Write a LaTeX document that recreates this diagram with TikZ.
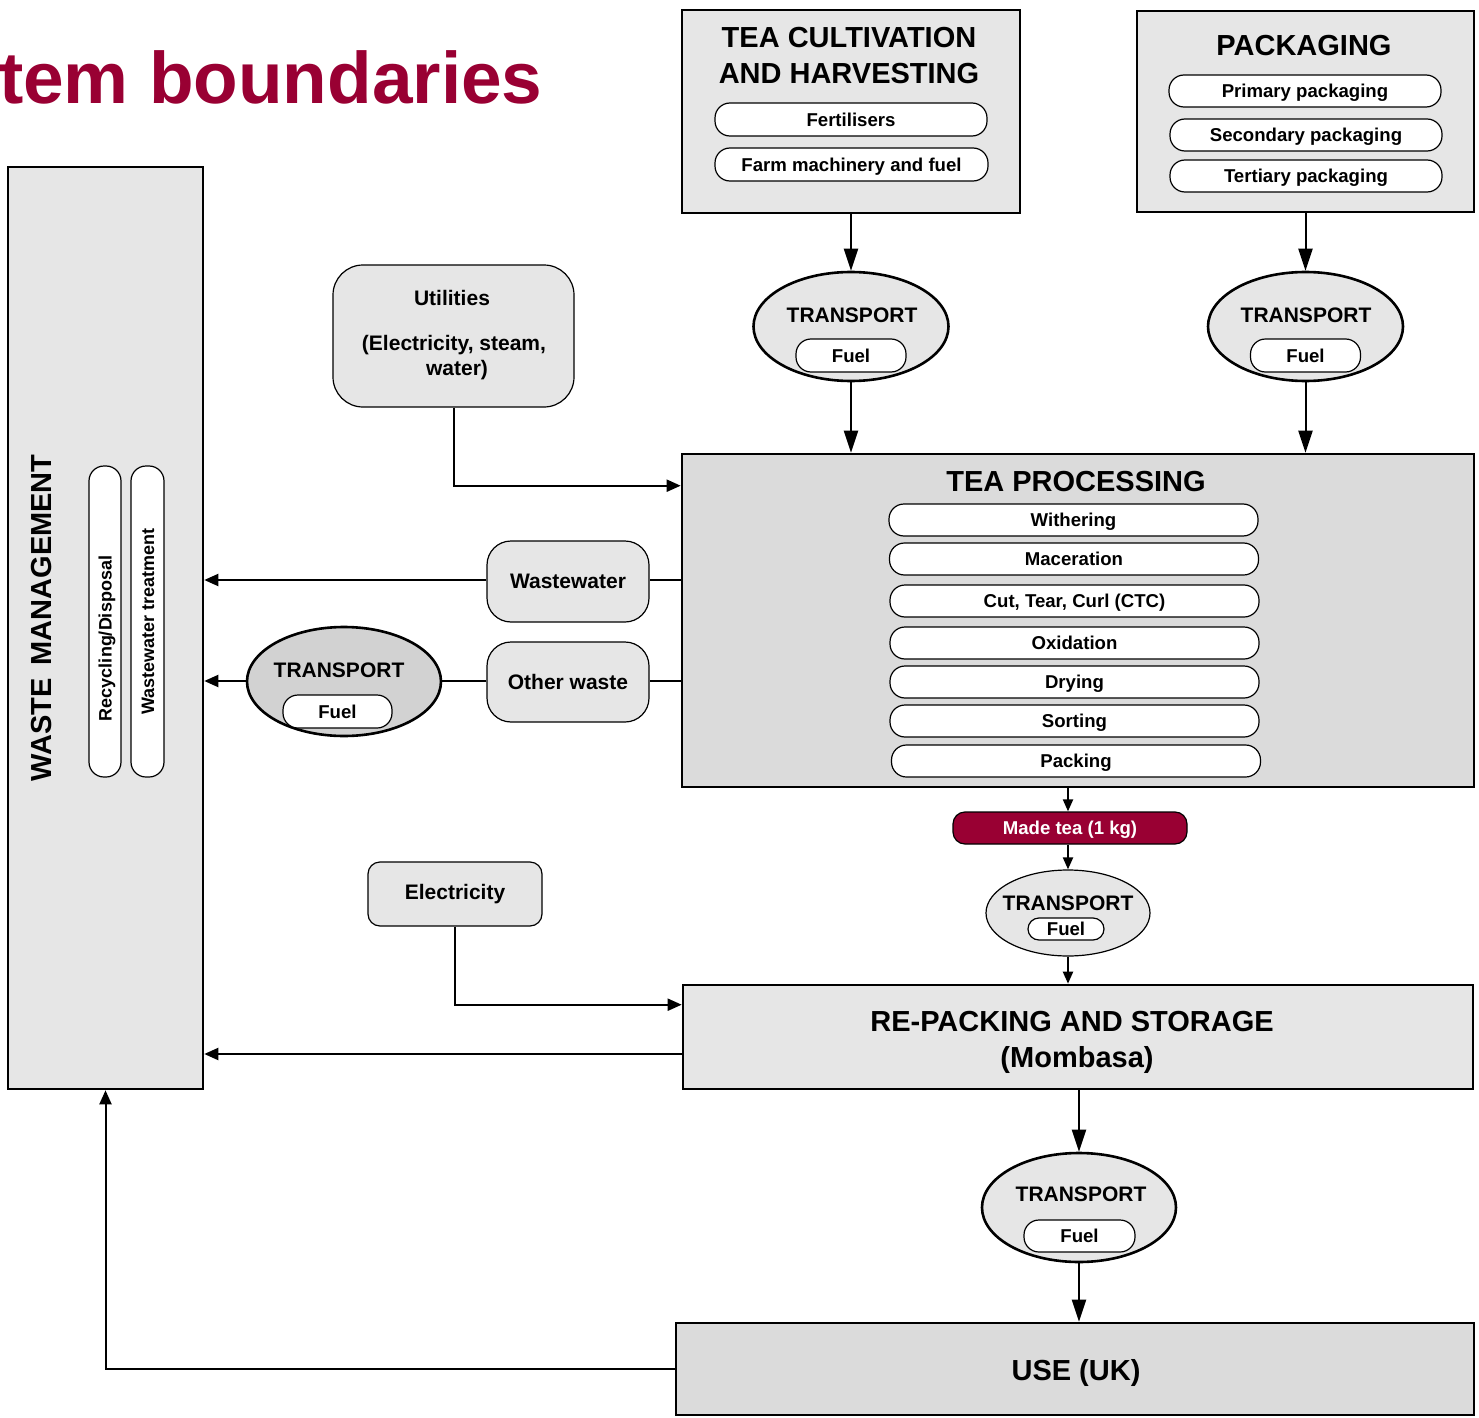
\documentclass[tikz,border=0pt]{standalone}
\usepackage{fontspec}
\setmainfont{Liberation Sans}
\usetikzlibrary{arrows.meta,shapes.geometric,calc}
\definecolor{wine}{HTML}{990033}
\definecolor{lg}{HTML}{E6E6E6}
\definecolor{mg}{HTML}{DBDBDB}
\definecolor{dg}{HTML}{D2D2D2}
\newcommand\myfs[2]{\fontsize{#1}{#2}\selectfont\bfseries}
\begin{document}
\begin{tikzpicture}[x=0.5pt,y=-0.5pt,
  bigbox/.style={draw, line width=1.3pt, fill=lg, inner sep=0pt},
  pill/.style={draw, fill=white, line width=0.6pt, rounded corners=7.5pt, inner sep=0pt,
    font=\myfs{9.3pt}{11pt}, text height=6.7pt, text depth=0pt},
  soft/.style={draw, line width=0.6pt, fill=lg, inner sep=0pt, align=center, font=\myfs{10.5pt}{12.5pt}},
  oval/.style={ellipse, draw, line width=1.3pt, fill=lg, inner sep=0pt},
  big/.style={inner sep=0pt, anchor=base, font=\myfs{14.5pt}{18pt}},
  tlbl/.style={inner sep=0pt, anchor=base, font=\myfs{10.5pt}{12.5pt}},
  conn/.style={line width=1pt},
  arr/.style={conn, -{Triangle[length=11pt,width=7pt]}},
  arrs/.style={conn, -{Triangle[length=7pt,width=6pt]}},
  arrt/.style={conn, -{Triangle[length=6pt,width=5pt]}},
]
\useasboundingbox (0,0) rectangle (1479,1418);

% title
\node[anchor=base east, text=wine, font=\myfs{36.5pt}{40pt}, inner sep=0pt] (title) at (543,104) {tem boundaries};

% tea cultivation
\node[bigbox, minimum width=169pt, minimum height=101.5pt] (cult) at (851,111.5) {};
\node[big] (cultA) at (849,47.5) {TEA CULTIVATION};
\node[big] (cultB) at (849,83.5) {AND HARVESTING};
\node[pill, minimum width=136pt, minimum height=16.5pt] (fert) at (851,119.5) {Fertilisers};
\node[pill, minimum width=136.5pt, minimum height=16.5pt] (farm) at (851.5,164.5) {Farm machinery and fuel};

% packaging
\node[bigbox, minimum width=168.5pt, minimum height=100.5pt] (pack) at (1305.5,111.5) {};
\node[big] (packT) at (1304,56) {PACKAGING};
\node[pill, minimum width=136pt, minimum height=16pt] (prim) at (1305,91) {Primary packaging};
\node[pill, minimum width=136pt, minimum height=16pt] (sec) at (1306,135) {Secondary packaging};
\node[pill, minimum width=136pt, minimum height=16pt] (tert) at (1306,176) {Tertiary packaging};

% transports top
\node[oval, minimum width=97.5pt, minimum height=54.5pt] (tr1) at (851,326.5) {};
\node[tlbl] (tr1T) at (852,322.5) {TRANSPORT};
\node[pill, minimum width=55pt, minimum height=16.5pt] (tr1F) at (851,355.5) {Fuel};
\node[oval, minimum width=97.5pt, minimum height=54.5pt] (tr2) at (1305.5,326.5) {};
\node[tlbl] (tr2T) at (1306,322.5) {TRANSPORT};
\node[pill, minimum width=55pt, minimum height=16.5pt] (tr2F) at (1305.5,355.5) {Fuel};

% utilities
\node[soft, rounded corners=15pt, minimum width=120.5pt, minimum height=71pt] (util) at (453.5,336) {};
\node[tlbl] (utilA) at (452,305.5) {Utilities};
\node[tlbl] (utilB) at (454,350.5) {(Electricity, steam,};
\node[tlbl] (utilC) at (457,375.5) {water)};

% tea processing
\node[bigbox, fill=mg, minimum width=396pt, minimum height=166.5pt] (tp) at (1078,620.5) {};
\node[big] (tpT) at (1076,491) {TEA PROCESSING};
\node[pill, minimum width=184.5pt, minimum height=16pt] (p1) at (1073.5,520) {Withering};
\node[pill, minimum width=184.5pt, minimum height=16pt] (p2) at (1074,559) {Maceration};
\node[pill, minimum width=184.5pt, minimum height=16pt] (p3) at (1074.5,601) {Cut, Tear, Curl (CTC)};
\node[pill, minimum width=184.5pt, minimum height=16pt] (p4) at (1074.5,643) {Oxidation};
\node[pill, minimum width=184.5pt, minimum height=16pt] (p5) at (1074.5,682) {Drying};
\node[pill, minimum width=184.5pt, minimum height=16pt] (p6) at (1074.5,721) {Sorting};
\node[pill, minimum width=184.5pt, minimum height=16pt] (p7) at (1076,761) {Packing};

% wastes
\node[soft, rounded corners=12pt, minimum width=81pt, minimum height=40.5pt] (ww) at (568,581.5) {Wastewater};
\node[soft, rounded corners=12pt, minimum width=81pt, minimum height=40pt] (ow) at (568,682) {Other waste};
\node[oval, fill=dg, minimum width=97pt, minimum height=54.5pt] (trw) at (344,681.5) {};
\node[tlbl] (trwT) at (339,677.5) {TRANSPORT};
\node[pill, minimum width=54.5pt, minimum height=16.5pt] (trwF) at (337.5,711.5) {Fuel};

% waste management
\node[bigbox, minimum width=97.5pt, minimum height=461pt] (wm) at (105.5,628) {};
\node[rotate=90, inner sep=0pt, font=\myfs{14.5pt}{18pt}] (wmT) at (42,618) {WASTE\hspace{0.45em}MANAGEMENT};
\node[pill, rotate=90, font=\myfs{9pt}{11pt}, minimum width=155.5pt, minimum height=16pt] (rec) at (105,621.5) {Recycling/Disposal\hspace*{17pt}};
\node[pill, rotate=90, font=\myfs{9pt}{11pt}, minimum width=155.5pt, minimum height=16.5pt] (wwt) at (147.5,621.5) {Wastewater treatment};

% made tea
\node[draw, line width=0.6pt, fill=wine, text=white, rounded corners=6pt, inner sep=0pt,
  minimum width=117pt, minimum height=16pt, font=\myfs{9.3pt}{11pt}, text height=6.7pt, text depth=0pt] (made) at (1070,828) {Made tea (1 kg)};

% small transport
\node[oval, line width=0.6pt, minimum width=82pt, minimum height=43pt] (trs) at (1068,913) {};
\node[tlbl] (trsT) at (1068,910.5) {TRANSPORT};
\node[pill, rounded corners=5.5pt, minimum width=38pt, minimum height=11pt] (trsF) at (1066,929) {Fuel};

% electricity
\node[soft, rounded corners=6pt, minimum width=87pt, minimum height=32pt] (elec) at (455,894) {Electricity};

% repacking
\node[bigbox, minimum width=395pt, minimum height=52pt] (rp) at (1078,1037) {};
\node[big] (rpA) at (1072,1031) {RE-PACKING AND STORAGE};
\node[big] (rpB) at (1077,1067) {(Mombasa)};

% bottom transport
\node[oval, minimum width=97pt, minimum height=54.5pt] (trb) at (1079,1207.5) {};
\node[tlbl] (trbT) at (1081,1201.5) {TRANSPORT};
\node[pill, minimum width=55.5pt, minimum height=16pt] (trbF) at (1079.5,1236) {Fuel};

% use
\node[bigbox, fill=mg, minimum width=399pt, minimum height=46pt] (use) at (1075,1369) {};
\node[big] (useT) at (1076,1380) {USE (UK)};

% connectors
\draw[arr] (cult.south) -- (tr1.north);
\draw[arr] (tr1.south) -- (tr1.south |- tp.north);
\draw[arr] (pack.south) -- (tr2.north);
\draw[arr] (tr2.south) -- (tr2.south |- tp.north);
\draw[arrs] (util.south) |- ([yshift=-16.5pt]tp.north west);
\draw[conn] (tp.west |- 0,580) -- (ww.east |- 0,580);
\draw[arrs] (ww.west |- 0,580) -- (wm.east |- 0,580);
\draw[conn] (tp.west |- 0,681) -- (ow.east |- 0,681);
\draw[conn] (ow.west |- 0,681) -- (trw.east |- 0,681);
\draw[arrs] (trw.west |- 0,681) -- (wm.east |- 0,681);
\draw[arrt] (tp.south -| trs) -- (made.north -| trs);
\draw[arrt] (made.south -| trs) -- (trs.north);
\draw[arrt] (trs.south) -- (trs.south |- rp.north);
\draw[arrs] (elec.south) |- ([yshift=-10.5pt]rp.north west);
\draw[arrs] ([yshift=-8.5pt]rp.west) -- ([yshift=-8.5pt]rp.west -| wm.east);
\draw[arr] (rp.south -| trb) -- (trb.north);
\draw[arr] (trb.south) -- (trb.south |- use.north);
\draw[arrs] (use.west) -| (wm.south);
\end{tikzpicture}
\end{document}
